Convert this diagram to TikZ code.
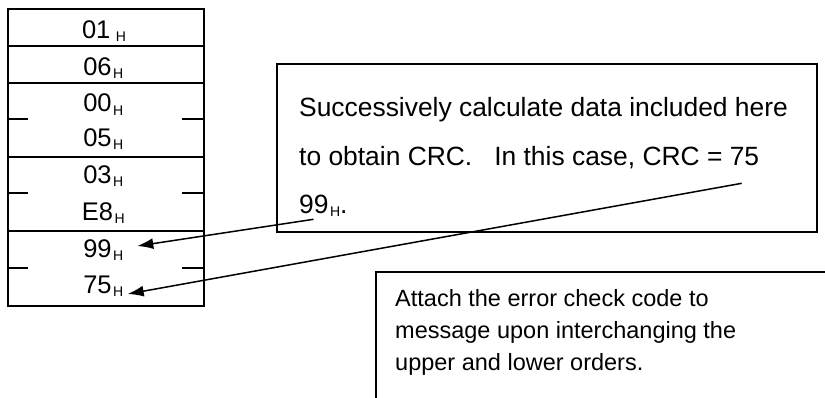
\documentclass[tikz,border=0pt]{standalone}
\usepackage{fontspec}
\setmainfont{Liberation Sans}
\usetikzlibrary{arrows.meta}
\newcommand\hsub{\kern1.5pt\raisebox{-3.4pt}{\fontsize{14}{14}\selectfont H}}
\tikzset{
  frame/.style={line width=1.9pt},
  cell/.style={anchor=base, inner sep=0pt, font=\fontsize{25.5}{25.5}\selectfont},
  txtA/.style={anchor=base west, inner sep=0pt, font=\fontsize{26.4}{26.4}\selectfont},
  txtB/.style={anchor=base west, inner sep=0pt, font=\fontsize{23.5}{23.5}\selectfont},
  arr/.style={line width=1.5pt, -{Latex[length=16pt,width=11pt]}}
}
\begin{document}
\begin{tikzpicture}[x=1pt,y=-1pt]
\useasboundingbox (0,0) rectangle (825,397);
% table
\draw[frame] (8,9.3) rectangle (204,305.7);
\draw[frame] (8,46) -- (204,46);
\draw[frame] (8,82.7) -- (204,82.7);
\draw[frame] (8,156.7) -- (204,156.7);
\draw[frame] (8,230.7) -- (204,230.7);
\foreach \y in {119.3,193,267.7} {
  \draw[frame] (8,\y) -- (28,\y);
  \draw[frame] (182,\y) -- (204,\y);
}
\node[cell] (c1) at (104,38.3) {01\kern4pt\hsub};
\node[cell] (c2) at (103.3,75) {06\hsub};
\node[cell] (c3) at (103.3,111.7) {00\hsub};
\node[cell] (c4) at (103.3,146.5) {05\hsub};
\node[cell] (c5) at (103.3,183.3) {03\hsub};
\node[cell] (c6) at (103.3,220) {E8\hsub};
\node[cell] (c7) at (103.3,257.3) {99\hsub};
\node[cell] (c8) at (103.3,293.3) {75\hsub};
% box 1
\node[draw, frame, minimum width=539.4pt, minimum height=167.7pt, inner sep=0pt] (box1) at (547,148) {};
\node[txtA] (t1) at (299,116.7) {Successively calculate data included here};
\node[txtA] (t2) at (299,165) {to obtain CRC.\hspace{22pt}In this case, CRC = 75};
\node[txtA] (t3) at (299,213) {99\hsub.};
% box 2
\coordinate (b2tl) at (376,271.7);
\coordinate (b2tr) at (826,271.7);
\coordinate (b2bl) at (376,398);
\draw[frame] (b2tr) -- (b2tl) -- (b2bl);
\node[txtB] (u1) at (395,306) {Attach the error check code to};
\node[txtB] (u2) at (395,338.3) {message upon interchanging the};
\node[txtB] (u3) at (395,370) {upper and lower orders.};
% arrows
\coordinate (s1) at (313.5,219.3);
\coordinate (e1) at (137.3,246);
\coordinate (s2) at (741.7,183.3);
\coordinate (e2) at (127.7,294);
\draw[arr] (s1) -- (e1);
\draw[arr] (s2) -- (e2);
\end{tikzpicture}
\end{document}
